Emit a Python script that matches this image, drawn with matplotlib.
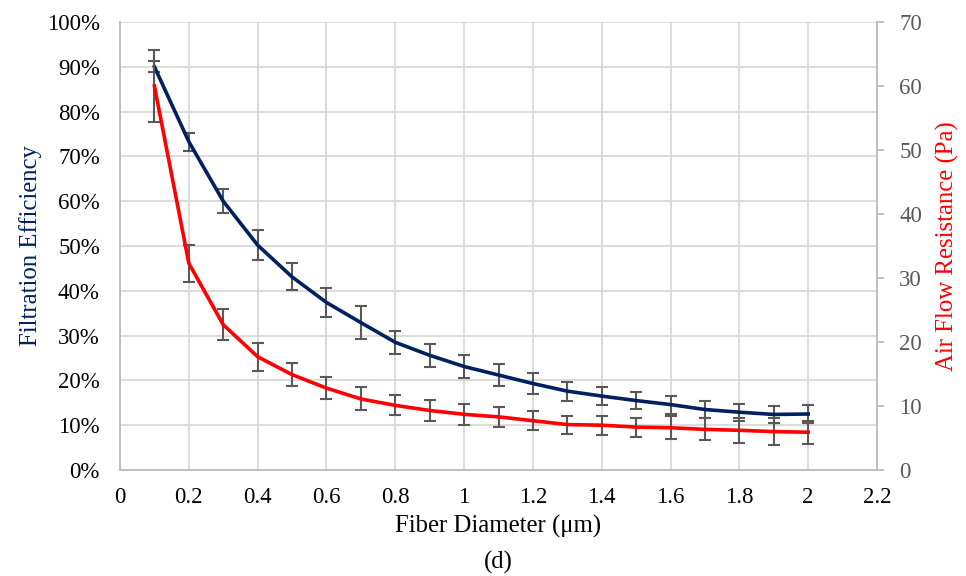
import matplotlib
matplotlib.use("Agg")
import matplotlib.pyplot as plt
from matplotlib.ticker import PercentFormatter, MultipleLocator
import numpy as np

plt.rcParams['font.family'] = ['Liberation Serif', 'DejaVu Serif']

diameter = [0.1, 0.2, 0.3, 0.4, 0.5, 0.6, 0.7, 0.8, 0.9, 1.0,
            1.1, 1.2, 1.3, 1.4, 1.5, 1.6, 1.7, 1.8, 1.9, 2.0]
efficiency = [0.900, 0.733, 0.600, 0.502, 0.431, 0.374, 0.329, 0.285, 0.256, 0.231,
              0.212, 0.193, 0.176, 0.165, 0.155, 0.146, 0.135, 0.129, 0.124, 0.125]
efficiency_err = [0.012, 0.020, 0.027, 0.033, 0.030, 0.032, 0.037, 0.026, 0.026, 0.025,
                  0.024, 0.024, 0.021, 0.020, 0.019, 0.020, 0.020, 0.019, 0.019, 0.021]
resistance = [60.0, 32.3, 22.7, 17.7, 14.9, 12.8, 11.1, 10.1, 9.3, 8.7,
              8.3, 7.7, 7.1, 7.0, 6.7, 6.6, 6.35, 6.2, 6.0, 5.9]
resistance_err = [5.6, 2.9, 2.4, 2.2, 1.85, 1.7, 1.8, 1.56, 1.6, 1.6,
                  1.56, 1.5, 1.4, 1.5, 1.5, 1.8, 1.7, 1.95, 2.1, 1.8]
x_ticklabels = ['0', '0.2', '0.4', '0.6', '0.8', '1', '1.2', '1.4', '1.6', '1.8', '2', '2.2']

fig = plt.figure(figsize=(9.66, 5.76), dpi=100)
ax = fig.add_axes([120/966, 1-470/576, (877-120)/966, (470-22)/576])
ax2 = ax.twinx()

navy = '#002060'
red = '#FF0000'
errc = '#595959'
gridc = '#D9D9D9'
axc = '#BFBFBF'

ax.errorbar(diameter, efficiency, yerr=efficiency_err, color=navy, lw=2.6,
            ecolor=errc, elinewidth=1.5, capsize=4, capthick=1.5, zorder=3)
ax2.errorbar(diameter, resistance, yerr=resistance_err, color=red, lw=2.6,
             ecolor=errc, elinewidth=1.5, capsize=4, capthick=1.5, zorder=3)

ax.set_xlim(0, 2.2)
ax.set_ylim(0, 1.0)
ax2.set_ylim(0, 70)
ax.yaxis.set_major_locator(MultipleLocator(0.1))
ax2.yaxis.set_major_locator(MultipleLocator(10))
ax.yaxis.set_major_formatter(PercentFormatter(1.0, decimals=0))
ax.set_xticks(np.arange(0, 2.21, 0.2))
ax.set_xticklabels(x_ticklabels)

ax.grid(True, color=gridc, lw=1.3)
ax.set_axisbelow(True)

for a in (ax, ax2):
    a.spines['top'].set_visible(False)
    for s in ('left', 'right', 'bottom'):
        a.spines[s].set_color(axc)
        a.spines[s].set_linewidth(1.3)

ax.tick_params(axis='both', length=0, labelsize=16.5, colors='black')
ax.tick_params(axis='x', pad=12)
ax.tick_params(axis='y', pad=14.5)
ax2.tick_params(axis='y', length=5, width=1.3, color=axc, labelsize=16.5,
                labelcolor='#595959', direction='out', pad=11)

ax.set_xlabel('Fiber Diameter (μm)', fontsize=17.8, labelpad=5)
ax.set_ylabel('Filtration Efficiency', fontsize=17.8, color=navy, labelpad=3.5)
ax2.set_ylabel('Air Flow Resistance (Pa)', fontsize=17.8, color=red, labelpad=10)

fig.text((120+877)/2/966, 1-562/576, '(d)', ha='center', va='center', fontsize=17.8)

fig.savefig('out.png', dpi=100)
